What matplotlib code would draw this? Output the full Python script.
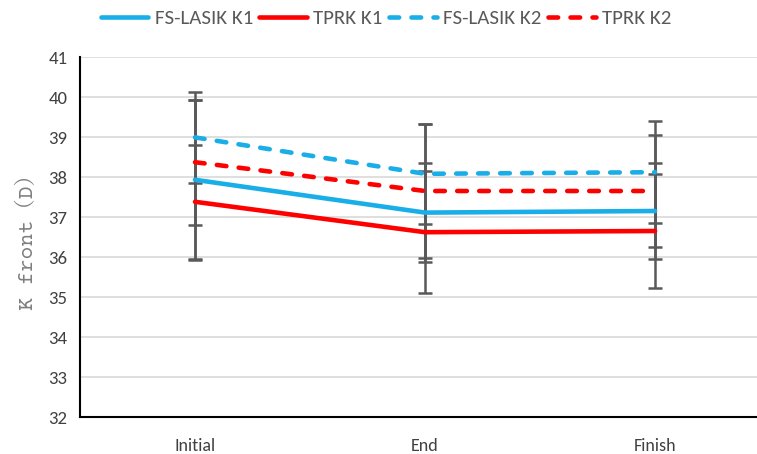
import matplotlib.pyplot as plt

# data
stages = ["Initial", "End", "Finish"]
series_names = ["FS-LASIK K1", "TPRK K1", "FS-LASIK K2", "TPRK K2"]
fs_k1 = [37.93, 37.11, 37.15]
tprk_k1 = [37.38, 36.62, 36.65]
fs_k2 = [38.99, 38.08, 38.12]
tprk_k2 = [38.37, 37.65, 37.65]
fs_k1_err = [2.0, 1.23, 1.19]
tprk_k1_err = [1.42, 1.52, 1.43]
fs_k2_err = [1.13, 1.25, 1.27]
tprk_k2_err = [1.56, 1.67, 1.41]

blue = "#1aaee8"
red = "#ff0000"

fig = plt.figure(figsize=(7.57, 4.54), dpi=100)
ax = fig.add_axes([80 / 757, 37 / 454, 677 / 757, 360 / 454])

x = list(range(len(stages)))
values = [fs_k1, tprk_k1, fs_k2, tprk_k2]
errors = [fs_k1_err, tprk_k1_err, fs_k2_err, tprk_k2_err]
colors = [blue, red, blue, red]
dash = (0, (2.1, 2.7))
styles = ["-", "-", dash, dash]

# error bars first, lines on top
for vals, errs in zip(values, errors):
    ax.errorbar(x, vals, yerr=errs, fmt="none", ecolor="#595959",
                elinewidth=1.8, capsize=5, capthick=1.8, zorder=2)

for name, vals, c, ls in zip(series_names, values, colors, styles):
    ax.plot(x, vals, color=c, linestyle=ls, linewidth=3.3,
            solid_capstyle="round", dash_capstyle="round", label=name, zorder=3)

ax.set_ylim(32, 41)
ax.set_yticks(range(32, 42))
ax.set_xlim(-0.5, 2.443)
ax.set_xticks(x)
ax.set_xticklabels(stages)
ax.grid(axis="y", color="#d9d9d9", linewidth=1.2)
ax.set_axisbelow(True)
for side in ["top", "right"]:
    ax.spines[side].set_visible(False)
for side in ["left", "bottom"]:
    ax.spines[side].set_color("#000000")
    ax.spines[side].set_linewidth(1.5)
ax.tick_params(axis="y", length=0, colors="#404040", pad=9)
ax.tick_params(axis="x", length=0, colors="#404040", pad=15)
for lbl in ax.get_xticklabels():
    lbl.set_fontsize(13)
    lbl.set_family("Carlito")
for lbl in ax.get_yticklabels():
    lbl.set_fontsize(13.5)
    lbl.set_family("Carlito")

ax.set_ylabel("K front（D）", family=["Courier Prime", "Noto Serif CJK JP"],
              fontsize=15.5, color="#7f7f7f", labelpad=8)

leg = fig.legend(loc="center", bbox_to_anchor=(386 / 757, 1 - 18 / 454), ncol=4,
                 frameon=False, handlelength=2.3,
                 columnspacing=0.3, handletextpad=0.3,
                 prop={"family": "Carlito", "size": 15})
for t in leg.get_texts():
    t.set_color("#595959")

fig.savefig("out.png", dpi=100)
